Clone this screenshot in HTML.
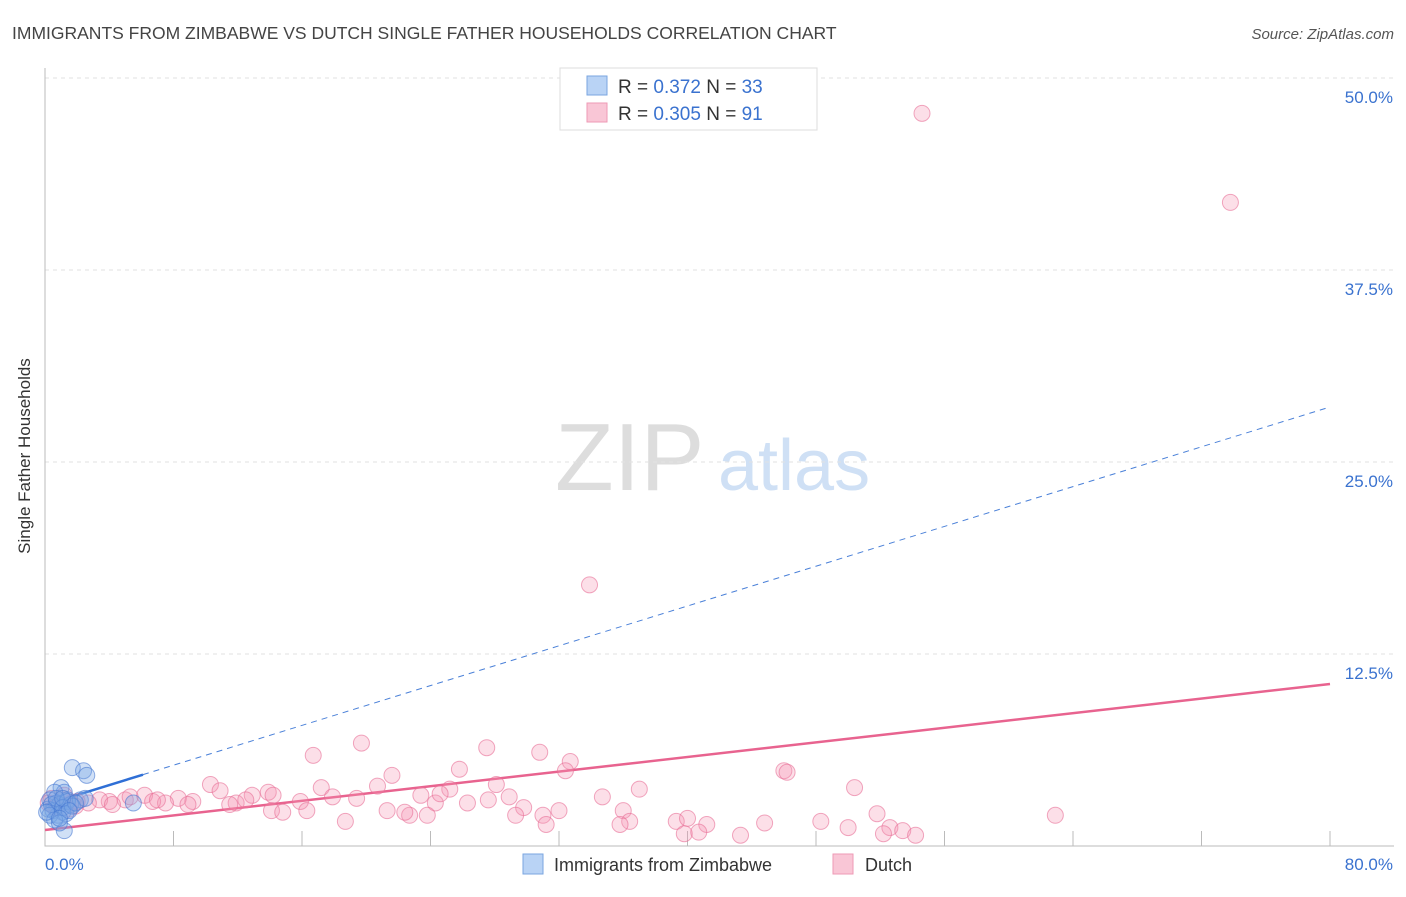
<!DOCTYPE html>
<html><head><meta charset="utf-8"><style>
body{margin:0;background:#fff;font-family:"Liberation Sans",sans-serif;}
svg text{font-family:"Liberation Sans",sans-serif;}
</style></head><body>
<svg id="chart" width="1406" height="892">
<text x="12" y="39" font-size="17.5" fill="#444">IMMIGRANTS FROM ZIMBABWE VS DUTCH SINGLE FATHER HOUSEHOLDS CORRELATION CHART</text>
<text x="1394" y="39" font-size="15" fill="#555" font-style="italic" text-anchor="end">Source: ZipAtlas.com</text>
<g>
<text x="555" y="490" font-size="96" fill="#ddd" font-family="Liberation Serif,serif">ZIP</text>
<text x="718" y="490" font-size="72" fill="#cfe0f5">atlas</text>
</g>
<g id="grid"></g>
<g id="axes"></g>
<g id="lines"></g>
<g id="pts"></g>
<text x="30" y="456" font-size="17" fill="#333" text-anchor="middle" transform="rotate(-90 30 456)">Single Father Households</text>
<g>
<rect x="560" y="68" width="257" height="62" fill="#fff" stroke="#ddd"/>
<rect x="587" y="76" width="20" height="19" fill="#b9d3f5" stroke="#7aa6e0"/>
<rect x="587" y="103" width="20" height="19" fill="#f9c6d6" stroke="#ee9ab5"/>
<text x="618" y="93" font-size="19" fill="#333">R = <tspan fill="#3a72cf">0.372</tspan>   N = <tspan fill="#3a72cf">33</tspan></text>
<text x="618" y="120" font-size="19" fill="#333">R = <tspan fill="#3a72cf">0.305</tspan>   N = <tspan fill="#3a72cf"> 91</tspan></text>
</g>
<g>
<rect x="523" y="854" width="20" height="20" fill="#b9d3f5" stroke="#7aa6e0"/>
<text x="554" y="871" font-size="18" fill="#333">Immigrants from Zimbabwe</text>
<rect x="833" y="854" width="20" height="20" fill="#f9c6d6" stroke="#ee9ab5"/>
<text x="865" y="871" font-size="18" fill="#333">Dutch</text>
</g>
</svg>
<script>
const yTicks=[12.5,25,37.5,50];
const yTickLabels=["12.5%","25.0%","37.5%","50.0%"];
const xTickLabels=["0.0%","80.0%"];
const blueX=[1.7,2.4,2.6,1.0,1.2,0.6,0.3,0.7,0.9,1.4,1.6,0.5,0.8,1.1,0.2,1.2,1.4,2.2,2.5,5.5,0.4,0.7,1.1,1.3,1.7,0.3,0.6,0.9,1.1,1.9,0.1,1.5,0.9];
const blueY=[5.1,4.9,4.6,3.8,3.5,3.5,3.0,2.8,2.7,3.0,2.7,2.3,2.0,2.2,2.4,1.0,2.9,3.0,3.1,2.8,2.7,3.1,2.5,2.1,2.6,2.0,1.7,1.5,3.1,2.8,2.2,2.3,1.8];
const pinkX=[54.6,73.8,33.9,16.7,19.7,27.5,30.8,32.7,32.4,25.8,46.0,46.2,50.4,21.6,10.3,17.2,20.7,25.2,37.0,28.1,13.9,12.9,10.9,6.2,34.7,28.9,27.6,26.3,24.3,23.4,19.4,17.9,15.9,14.2,11.9,9.2,8.3,7.5,6.7,5.0,4.0,3.4,2.7,1.9,1.6,1.1,0.7,14.1,14.8,16.3,21.3,22.7,23.8,29.8,32.0,31.0,36.0,36.4,35.8,39.3,40.0,41.2,44.8,48.3,51.8,52.6,53.4,62.9,18.7,29.3,31.2,43.3,39.8,40.7,50.0,52.2,54.2,22.4,0.4,0.6,0.2,1.2,4.2,12.5,11.5,7.0,5.3,8.9,24.6,1.5,2.0];
const pinkY=[47.7,41.9,17.0,5.9,6.7,6.4,6.1,5.5,4.9,5.0,4.9,4.8,3.8,4.6,4.0,3.8,3.9,3.7,3.7,4.0,3.5,3.3,3.6,3.3,3.2,3.2,3.0,2.8,2.8,3.3,3.1,3.2,2.9,3.3,2.8,2.9,3.1,2.8,2.9,3.0,2.9,3.0,2.8,2.6,2.8,3.0,2.6,2.3,2.2,2.3,2.3,2.0,2.0,2.5,2.3,2.0,2.3,1.6,1.4,1.6,1.8,1.4,1.5,1.6,2.1,1.2,1.0,2.0,1.6,2.0,1.4,0.7,0.8,0.9,1.2,0.8,0.7,2.2,3.1,2.5,2.8,3.3,2.7,3.0,2.7,3.0,3.2,2.7,3.4,2.4,2.9];
const blueTrend=[2.67,28.58];
const blueSolidEnd=6.1;
const pinkTrend=[1.04,10.55];
const X0=45,X1=1330,Y0=846,PXP=15.36;
const sx=v=>X0+v/80*(X1-X0);
const sy=v=>Y0-v*PXP;
const NS="http://www.w3.org/2000/svg";
function mk(parent,tag,attrs){const e=document.createElementNS(NS,tag);for(const k in attrs)e.setAttribute(k,attrs[k]);document.getElementById(parent).appendChild(e);return e;}
yTicks.forEach((t,i)=>{
 const g=mk('grid','line',{x1:X0,x2:1394,y1:sy(t),y2:sy(t),stroke:'#e2e2e2','stroke-dasharray':'4,4'});
 
 
 const l=mk('axes','text',{x:1393,y:sy(t)+25,'font-size':17,fill:'#3a72cf','text-anchor':'end'});
 l.textContent=yTickLabels[i];
 
 
});
const ax=mk('axes','path',{d:`M${X0} 68V${Y0}H1394`,stroke:'#bbb',fill:'none'});


for(let i=1;i<=10;i++){
 const t=mk('axes','line',{x1:sx(i*8),x2:sx(i*8),y1:Y0,y2:Y0-15,stroke:'#bbb'});
 
 
}
[[0,'start',X0],[80,'end',1393]].forEach((d,i)=>{
 const l=mk('axes','text',{x:d[2],y:870,'font-size':17,fill:'#3a72cf','text-anchor':d[1]});
 l.textContent=xTickLabels[i];
 
 
});
pinkX.forEach((x,i)=>{
 const c=mk('pts','circle',{cx:sx(x),cy:sy(pinkY[i]),r:8,fill:'rgba(244,150,180,0.3)',stroke:'rgba(232,110,150,0.6)','stroke-width':1});
 
 
});
blueX.forEach((x,i)=>{
 const c=mk('pts','circle',{cx:sx(x),cy:sy(blueY[i]),r:8,fill:'rgba(120,165,230,0.35)',stroke:'rgba(70,120,210,0.6)','stroke-width':1});
 
 
});
const by=x=>blueTrend[0]+(blueTrend[1]-blueTrend[0])*x/80;
const bd=mk('lines','line',{x1:sx(blueSolidEnd),y1:sy(by(blueSolidEnd)),x2:sx(80),y2:sy(blueTrend[1]),stroke:'#4a80d8','stroke-width':1,'stroke-dasharray':'6,5'});


const bs=mk('lines','line',{x1:sx(0),y1:sy(blueTrend[0]),x2:sx(blueSolidEnd),y2:sy(by(blueSolidEnd)),stroke:'#2f6fd6','stroke-width':2.5});


const pl=mk('lines','line',{x1:sx(0),y1:sy(pinkTrend[0]),x2:sx(80),y2:sy(pinkTrend[1]),stroke:'#e8638f','stroke-width':2.5});


</script>
</body></html>
